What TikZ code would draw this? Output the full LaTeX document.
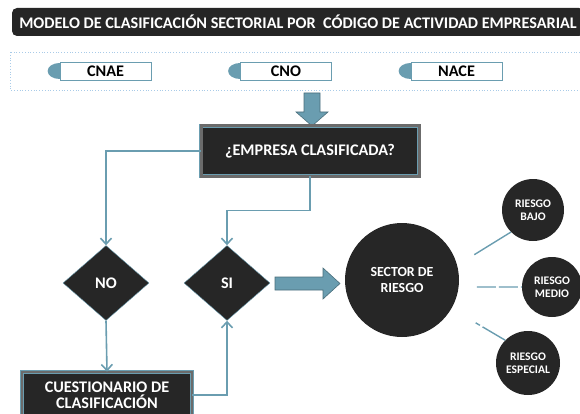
\documentclass[tikz,border=0pt]{standalone}
\usepackage{fontspec}
\setmainfont{Carlito}
\usetikzlibrary{positioning}
\usetikzlibrary{shapes.geometric}
\usetikzlibrary{arrows.meta}
\usetikzlibrary{backgrounds}

\definecolor{azulverde}{HTML}{6A9DB0}
\definecolor{oscuro}{HTML}{262626}
\definecolor{grisbisel}{HTML}{6B6B6B}
\definecolor{punteado}{HTML}{A9CBE8}

\begin{document}
\begin{tikzpicture}[x=1pt,y=-1pt,
    font=\fontsize{16.2}{16.5}\selectfont\bfseries,
    caja/.style={draw=azulverde, fill=oscuro, text=white, double=grisbisel, double distance=3pt, line width=0.8pt, align=center, inner sep=0},
    pastilla/.style={draw=azulverde, fill=white, line width=0.8pt, minimum width=91, minimum height=18, inner sep=0},
    rombo/.style={diamond, draw=azulverde, fill=oscuro, text=white, minimum width=86, minimum height=75, inner sep=0},
    bola/.style={circle, fill=oscuro, text=white, align=center, inner sep=0},
    linea/.style={azulverde, line width=1.6pt, -{Straight Barb[length=6pt,width=11pt]}},
    rama/.style={azulverde, line width=1.4pt},
    bloque/.style={fill=azulverde, draw=azulverde!70!black, line width=0.6pt}]
    \useasboundingbox (0,0) rectangle (580,414);
    \clip (0,0) rectangle (580,414);

    % titulo
    \node[fill=oscuro, text=white, rounded corners=5pt, minimum width=572, minimum height=28, inner sep=0] (titulo) at (298,22)
        {MODELO DE CLASIFICACIÓN SECTORIAL POR\ \ CÓDIGO DE ACTIVIDAD EMPRESARIAL};

    % codigos
    \node[pastilla] (cnae) at (105.5,71) {CNAE};
    \node[pastilla] (cno) at (286,71) {CNO};
    \node[pastilla] (nace) at (456.5,71) {NACE};
    \begin{scope}[on background layer]
        \draw[punteado, dotted, line width=0.8pt] (10,52) rectangle (586,90);
        \foreach \n in {cnae,cno,nace}
            \node[ellipse, fill=azulverde, minimum width=24, minimum height=16, inner sep=0] at (\n.west) {};
    \end{scope}
    \filldraw[bloque] (304,93) -- (320,93) -- (320,112) -- (328,112) -- (312,126) -- (296,112) -- (304,112) -- cycle;

    % diagrama
    \node[caja, minimum width=218, minimum height=50] (empresa) at (310,151) {¿EMPRESA CLASIFICADA?};
    \node[rombo] (no) at (106,283) {NO};
    \node[rombo] (si) at (227,283) {SI};
    \node[caja, double distance=1.5pt, minimum width=170, minimum height=46] (cuest) at (107,395) {CUESTIONARIO DE\\CLASIFICACIÓN};

    \draw[linea] (empresa.west) -| (no.north);
    \draw[linea] (empresa.south) -- ++(0,34) -| (si.north);
    \draw[linea] (no.south) -- (cuest.north);
    \draw[linea] (cuest.east) -| (si.south);

    \filldraw[bloque] (275,277) -- (323,277) -- (323,268) -- (340,283.5) -- (323,299) -- (323,290) -- (275,290) -- cycle;

    % sectores
    \node[bola, minimum size=114, font=\fontsize{13.9}{15.5}\selectfont\bfseries] (sector) at (402,280) {SECTOR DE\\RIESGO};
    \node[bola, minimum size=62, font=\fontsize{11.6}{12.5}\selectfont\bfseries] (bajo) at (533,210) {RIESGO\\BAJO};
    \node[bola, minimum size=60, font=\fontsize{11.6}{12.5}\selectfont\bfseries] (medio) at (552,287) {RIESGO\\MEDIO};
    \node[bola, minimum size=64, font=\fontsize{11.6}{12.5}\selectfont\bfseries] (especial) at (528,363) {RIESGO\\ESPECIAL};

    \draw[rama, shorten <=20pt] (sector.15) -- (bajo.225);
    \draw[rama, dash pattern=on 19pt off 3pt, shorten <=18pt] (sector.353) -- (medio.west);
    \draw[rama, dash pattern=on 5pt off 3pt on 40pt off 0pt, shorten <=28pt] (sector.330) -- (especial.135);
\end{tikzpicture}
\end{document}
